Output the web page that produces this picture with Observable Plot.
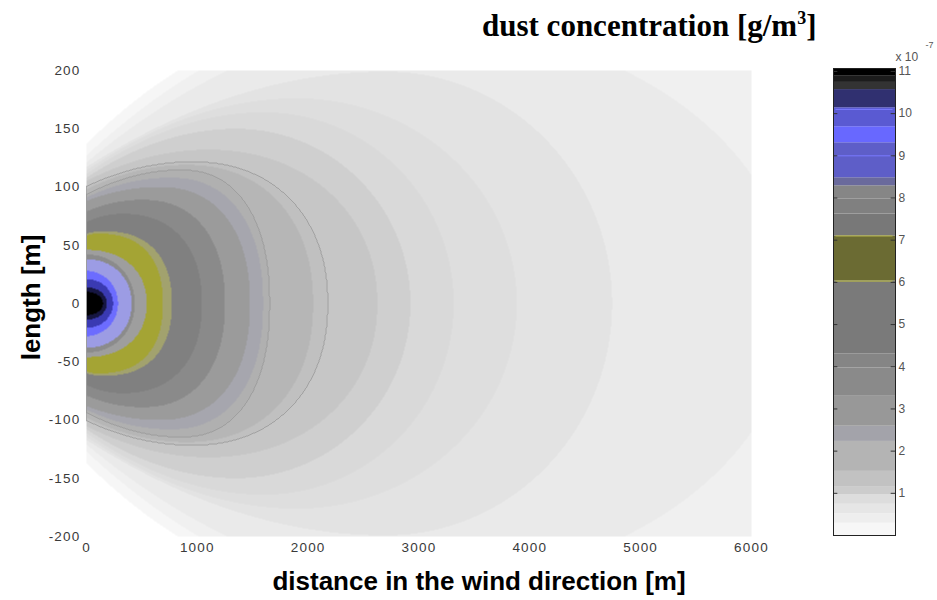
<!DOCTYPE html>
<html>
<head>
<meta charset="utf-8">
<script src="https://cdn.jsdelivr.net/npm/d3@7"></script>
<script src="https://cdn.jsdelivr.net/npm/@observablehq/plot@0.6"></script>
<style>
  html, body { margin: 0; padding: 0; background: #fff; }
  body { width: 937px; height: 600px; position: relative; overflow: hidden; font-family: "Liberation Sans", Arial, sans-serif; }
  #title { position: absolute; left: 482px; top: 10px; font: bold 31px "Liberation Serif", "Times New Roman", serif; color: #000; white-space: nowrap; line-height: 31px; }
  #title sup { font-size: 18px; line-height: 0; vertical-align: 12px; }
  #map { position: absolute; left: 0; top: 0; }
  #bar { position: absolute; left: 800px; top: 0; }
  #map g[aria-label="x-axis tick label"] text,
  #map g[aria-label="y-axis tick label"] text { letter-spacing: 1.2px; }
</style>
</head>
<body>
<div id="title">dust concentration [g/m<sup>3</sup>]</div>
<div id="map"></div>
<div id="bar"></div>
<script>
// Contour levels of dust concentration (x 10^-7 g/m^3)
const levels = [0.2, 0.45, 0.6, 0.75, 0.9, 1.0, 1.15, 1.3, 1.6, 1.8, 2.25, 2.45, 2.6, 3.3, 4.0, 6.0, 6.25, 7.1, 7.65, 8.3, 9.35, 10.2, 10.6, 10.9];
// Geometry of each level's contour, in metres:
// downwind reach on the plume axis
const reach = [9000, 9000, 6380, 4742, 3882, 3312, 2923, 2624, 2181, 2045, 1656, 1593, 1475, 1249, 1041, 769, 688, 543, 434, 407, 285, 240, 185, 150];
// lateral half-width at the source (x = 0)
const edgeHalfWidth = [137, 127, 121, 117, 114, 111, 108, 105, 101, 98, 94, 91, 88, 79, 70, 60, 58, 46, 42, 38, 28, 21, 14, 10];
// widest lateral half-width
const peakHalfWidth = [240, 250, 239, 199, 176, 164, 150, 132, 122, 119, 115, 108, 100, 89, 77, 62, 60, 46, 42, 38, 28, 21, 14, 10];
// downwind distance of the widest point
const peakDistance = [2200, 2800, 3000, 2700, 1900, 1600, 1350, 1100, 950, 900, 850, 750, 650, 500, 320, 150, 100, 0, 0, 0, 0, 0, 0, 0];
// bluntness of the plume front
const frontShape = [2, 2, 2, 2, 2, 2, 2, 2.1, 2.2, 2.2, 2.3, 2.3, 2.3, 2.3, 2.3, 2.4, 2.4, 2.2, 2.1, 2.1, 2, 2, 2, 2];

// Colour bar: band boundaries (x 10^-7) and tick values
const barStops = [0, 0.29, 0.52, 0.74, 0.97, 1.16, 1.52, 2.23, 2.59, 3.30, 3.97, 4.30, 6.03, 7.10, 7.62, 7.98, 8.29, 8.48, 9.31, 9.69, 10.14, 10.57, 10.74, 10.90, 11.07];
const barTicks = [1, 2, 3, 4, 5, 6, 7, 8, 9, 10, 11];

// Axis ticks
const xTicks = [0, 1000, 2000, 3000, 4000, 5000, 6000];
const yTicks = [-200, -150, -100, -50, 0, 50, 100, 150, 200];

// Fill colours of the contour bands (one per level) and of the colour bar
const mapPalette = ["#f6f6f6", "#f0f0f0", "#eaeaea", "#e3e3e3", "#dedede", "#d9d9d9", "#cfcfcf", "#c6c6c6",
  "#c0c0c0", "#b6b6b6", "#b0b0b0", "#a6a6ae", "#9b9b9b", "#8a8a8a", "#808080", "#a2a26e", "#a4a434",
  "#9e9e9e", "#8b8b8b", "#9c9ce4", "#6c6cff", "#3a3ab2", "#161642", "#000000"];
const barPalette = ["#f7f7f7", "#eeeeee", "#e6e6e6", "#dddddd", "#cccccc", "#c2c2c2", "#b4b4b4", "#a3a3aa",
  "#989898", "#8a8a8a", "#858585", "#7a7a7a", "#6b6b33", "#787878", "#808080", "#868686", "#6a6a9c",
  "#5e5ec8", "#6868ff", "#5a5ad2", "#303070", "#333333", "#1c1c1c", "#000000"];

// Half-width of contour k at downwind distance x (negative when beyond its reach)
function halfWidth(k, x) {
  const R = reach[k], H0 = edgeHalfWidth[k], B = peakHalfWidth[k], xB = peakDistance[k], p = frontShape[k];
  if (x > R) return -1;
  if (x <= xB) {
    const t = 1 - x / xB;
    return H0 + (B - H0) * (1 - t * t);
  }
  const u = (x - xB) / (R - xB);
  return B * Math.pow(1 - Math.pow(u, p), 1 / p);
}

// Concentration band at (x, y): the highest level whose contour encloses the point
function concentration(x, y) {
  const ay = Math.abs(y);
  for (let k = levels.length - 1; k >= 0; --k) {
    if (ay <= halfWidth(k, x)) return levels[k];
  }
  return 0;
}

const font = "'Liberation Sans', Arial, sans-serif";

const map = Plot.plot({
  width: 800,
  height: 600,
  marginLeft: 86,
  marginRight: 49,
  marginTop: 70,
  marginBottom: 64,
  style: { fontFamily: font, fontSize: "13.5px", color: "#3a3a3a", background: "transparent" },
  x: { domain: [0, 6000] },
  y: { domain: [-200, 200] },
  color: { type: "threshold", domain: levels, range: ["#ffffff", ...mapPalette] },
  marks: [
    Plot.raster({ x1: 0, x2: 6000, y1: -200, y2: 200, fill: concentration, pixelSize: 1 }),
    Plot.contour({ x1: 0, x2: 6000, y1: -200, y2: 200, value: concentration, thresholds: [1.6, 2.25],
      fill: "none", stroke: "#9a9a9a", strokeWidth: 0.8, pixelSize: 1 }),
    Plot.axisX({ ticks: xTicks, tickSize: 0, tickPadding: 6, tickFormat: d => `${d}`, label: null }),
    Plot.axisY({ ticks: yTicks, tickSize: 0, tickPadding: 6, tickFormat: d => `${d}`, label: null }),
    Plot.text(["distance in the wind direction [m]"], {
      frameAnchor: "bottom", textAnchor: "middle", dx: 60, dy: 53, fontSize: 26, fontWeight: "bold", fill: "#000", fontFamily: font
    }),
    Plot.text(["length [m]"], {
      frameAnchor: "left", textAnchor: "middle", lineAnchor: "middle", dx: -55, dy: -6, rotate: -90,
      fontSize: 26, fontWeight: "bold", fill: "#000", fontFamily: font
    })
  ]
});
document.getElementById("map").append(map);

const bands = barPalette.map((color, i) => ({ lo: barStops[i], hi: barStops[i + 1], color }));

const bar = Plot.plot({
  width: 137,
  height: 600,
  marginLeft: 33,
  marginRight: 42,
  marginTop: 68,
  marginBottom: 65,
  style: { fontFamily: font, fontSize: "12px", color: "#555", background: "transparent" },
  x: { domain: [0, 1], axis: null },
  y: { domain: [0, 11.07], axis: null },
  color: { type: "identity" },
  marks: [
    Plot.rect(bands, { x1: 0, x2: 1, y1: "lo", y2: "hi", fill: "color" }),
    Plot.ruleY([6.03, 7.1], { x1: 0.04, x2: 0.96, stroke: "#b9b94a", strokeWidth: 1 }),
    Plot.ruleY([9.0, 10.1], { x1: 0.04, x2: 0.96, stroke: "#7a7aff", strokeWidth: 1 }),
    Plot.ruleY(barTicks, { x1: 0, x2: 0.07, stroke: "#333" }),
    Plot.ruleY(barTicks, { x1: 0.93, x2: 1, stroke: "#333" }),
    Plot.frame({ stroke: "#222" }),
    Plot.text(barTicks, { x: 1, y: d => d, dx: 3, textAnchor: "start", fill: "#555", fontSize: 12 }),
    Plot.text(["x 10"], { frameAnchor: "top-right", textAnchor: "start", lineAnchor: "bottom", dx: 0, dy: -8, fill: "#555", fontSize: 12 }),
    Plot.text(["-7"], { frameAnchor: "top-right", textAnchor: "start", lineAnchor: "bottom", dx: 30, dy: -21, fill: "#555", fontSize: 9 })
  ]
});
document.getElementById("bar").append(bar);
</script>
</body>
</html>
